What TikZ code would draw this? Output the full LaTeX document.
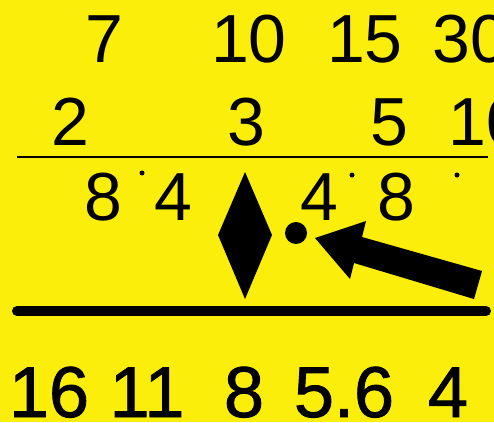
\documentclass[tikz,border=0pt]{standalone}
\usepackage{fontspec}
\setmainfont{Liberation Sans}
\newfontfamily\metrefont[FakeBold=1.2]{Liberation Sans}
\definecolor{dialyellow}{RGB}{250,238,10}
\tikzset{
  scalenum/.style={anchor=base, inner sep=0pt, font=\fontsize{68}{68}\selectfont},
  metrenum/.style={anchor=base, inner sep=0pt, font=\metrefont\fontsize{72}{72}\selectfont},
  tickdot/.style={circle, fill=black, inner sep=0pt, minimum size=5pt}
}
\begin{document}
\begin{tikzpicture}[x=1pt,y=-1pt]
    \fill[dialyellow] (0,0) rectangle (494,422);
    \useasboundingbox (0,0) rectangle (494,422);
    \clip (0,0) rectangle (494,422);

    % feet row
    \node[scalenum] (ft7) at (104,63) {7};
    \node[scalenum] (ft10) at (249,63) {10};
    \node[scalenum] (ft15) at (365,63) {15};
    \node[scalenum, anchor=base west] (ft30) at (432,63) {30};

    \node[scalenum] (ft2) at (70,146) {2};
    \node[scalenum] (ft3) at (246,146) {3};
    \node[scalenum] (ft5) at (389,146) {5};
    \node[scalenum, anchor=base west] (ft10b) at (448,146) {10};

    \draw[line width=2.5pt] (17,157) -- (488,157);

    % aperture row
    \node[scalenum] (ap8) at (103,220) {8};
    \node[scalenum] (ap4) at (173,220) {4};
    \node[scalenum] (bp4) at (319,220) {4};
    \node[scalenum] (bp8) at (396,220) {8};
    \node[tickdot] (d1) at (142,173) {};
    \node[tickdot] (d2) at (352,175) {};
    \node[tickdot] (d3) at (457,175) {};

    \fill (245,172) -- (272,235) -- (245,299) -- (218,235) -- cycle;
    \node[circle, fill=black, inner sep=0pt, minimum size=22pt] (ir) at (296,233) {};
    \fill (315,238) -- (366,221) -- (362,237) -- (482,271) -- (474,299)
      -- (354,263) -- (350,279) -- cycle;

    \draw[line width=10pt, line cap=round] (17,311) -- (486,311);

    % metres row
    \node[metrenum] (m16) at (49,417) {16};
    \node[metrenum] (m11) at (147,417) {11};
    \node[metrenum] (m8) at (244,417) {8};
    \node[metrenum] (m56) at (344,417) {5.6};
    \node[metrenum] (m4) at (448,417) {4};
  \end{tikzpicture}
\end{document}
